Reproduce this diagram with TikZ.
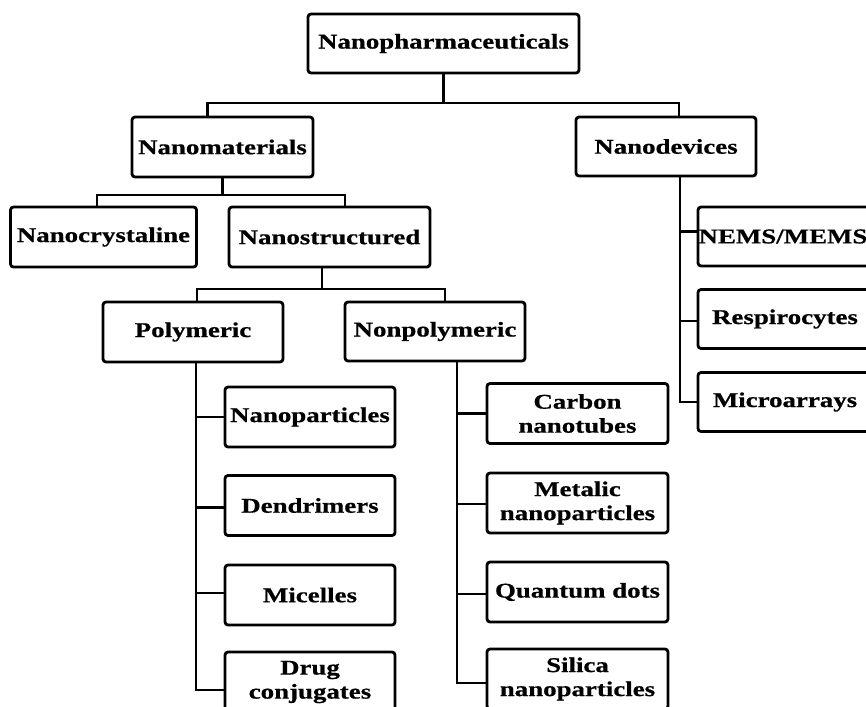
\documentclass[tikz,border=0pt]{standalone}
\usepackage{fontspec}
\newfontfamily\boxfont[FakeStretch=1.28,BoldFeatures={FakeBold=0.6}]{Liberation Serif}
\begin{document}
\begin{tikzpicture}[x=0.5pt,y=-0.5pt,
        box/.style={draw,fill=white,line width=1.4pt,rounded corners=1.5pt,inner sep=0pt,
            minimum height=30pt,align=center,
            font={\boxfont\bfseries\fontsize{10.5}{12}\selectfont}},
        link/.style={line width=1.4pt}]
        \useasboundingbox (0,0) rectangle (866,706);
        % links
        \coordinate (bus1) at (443.5,103);
        \coordinate (bus2) at (222.5,195);
        \coordinate (bus3) at (322,289);
        % levels 1-3
        \node[box,minimum width=135.5pt,minimum height=29.5pt] (pharma) at (443.5,43.5) {Nanopharmaceuticals};
        \node[box,minimum width=90.5pt] (mater) at (222.5,147) {Nanomaterials};
        \node[box,minimum width=90pt,minimum height=29.5pt] (devic) at (666,146.5) {Nanodevices};
        \node[box,minimum width=93pt] (cryst) at (103.5,237) {Nanocrystaline};
        \node[box,minimum width=100.5pt] (struc) at (329.5,237) {Nanostructured};
        \node[box,minimum width=90pt] (polym) at (193,332) {Polymeric};
        \node[box,minimum width=90pt,minimum height=29.5pt] (nonpo) at (435,331.5) {Nonpolymeric};
        % polymeric
        \node[box,minimum width=85pt] (pnano) at (310,417) {Nanoparticles};
        \node[box,minimum width=85pt] (pdend) at (310,505.5) {Dendrimers};
        \node[box,minimum width=85pt] (pmice) at (310,595) {Micelles};
        \node[box,minimum width=85pt] (pdrug) at (310,682) {Drug\\conjugates};
        % nonpolymeric
        \node[box,minimum width=90.5pt] (ncarb) at (577.5,413.5) {Carbon\\nanotubes};
        \node[box,minimum width=90.5pt] (nmeta) at (577.5,503) {Metalic\\nanoparticles};
        \node[box,minimum width=90.5pt] (nquan) at (577.5,592) {Quantum dots};
        \node[box,minimum width=90.5pt] (nsili) at (577.5,679) {Silica\\nanoparticles};
        % nanodevices
        \node[box,minimum width=87pt,minimum height=29.5pt] (dnems) at (785,236.5) {NEMS/MEMS\hspace{2pt}};
        \node[box,minimum width=87pt,minimum height=29.5pt] (dresp) at (785,319) {Respirocytes};
        \node[box,minimum width=87pt,minimum height=29.5pt] (dmicr) at (785,402) {Microarrays};

        \draw[link] (pharma.south) -- (bus1);
        \draw[link] ([xshift=-7.5pt]mater.north) |- (bus1) -| ([xshift=6.5pt]devic.north);
        \draw[link] (mater.south) -- (bus2);
        \draw[link] ([xshift=-3.25pt]cryst.north) |- (bus2) -| ([xshift=7.75pt]struc.north);
        \draw[link] ([xshift=-3.75pt]struc.south) -- (bus3);
        \draw[link] ([xshift=2pt]polym.north) |- (bus3) -| ([xshift=5pt]nonpo.north);
        \foreach \n/\dy in {pnano/0,pdend/-1,pmice/1,pdrug/-4}
            \draw[link] ([xshift=1.5pt]polym.south) |- ([yshift=\dy pt]\n.west);
        \foreach \n/\dy in {ncarb/0,nmeta/-0.5,nquan/-1,nsili/-2}
            \draw[link] ([xshift=11pt]nonpo.south) |- ([yshift=\dy pt]\n.west);
        \foreach \n/\dy in {dnems/2.5,dresp/-1,dmicr/0}
            \draw[link] ([xshift=7pt]devic.south) |- ([yshift=\dy pt]\n.west);
    \end{tikzpicture}
\end{document}
